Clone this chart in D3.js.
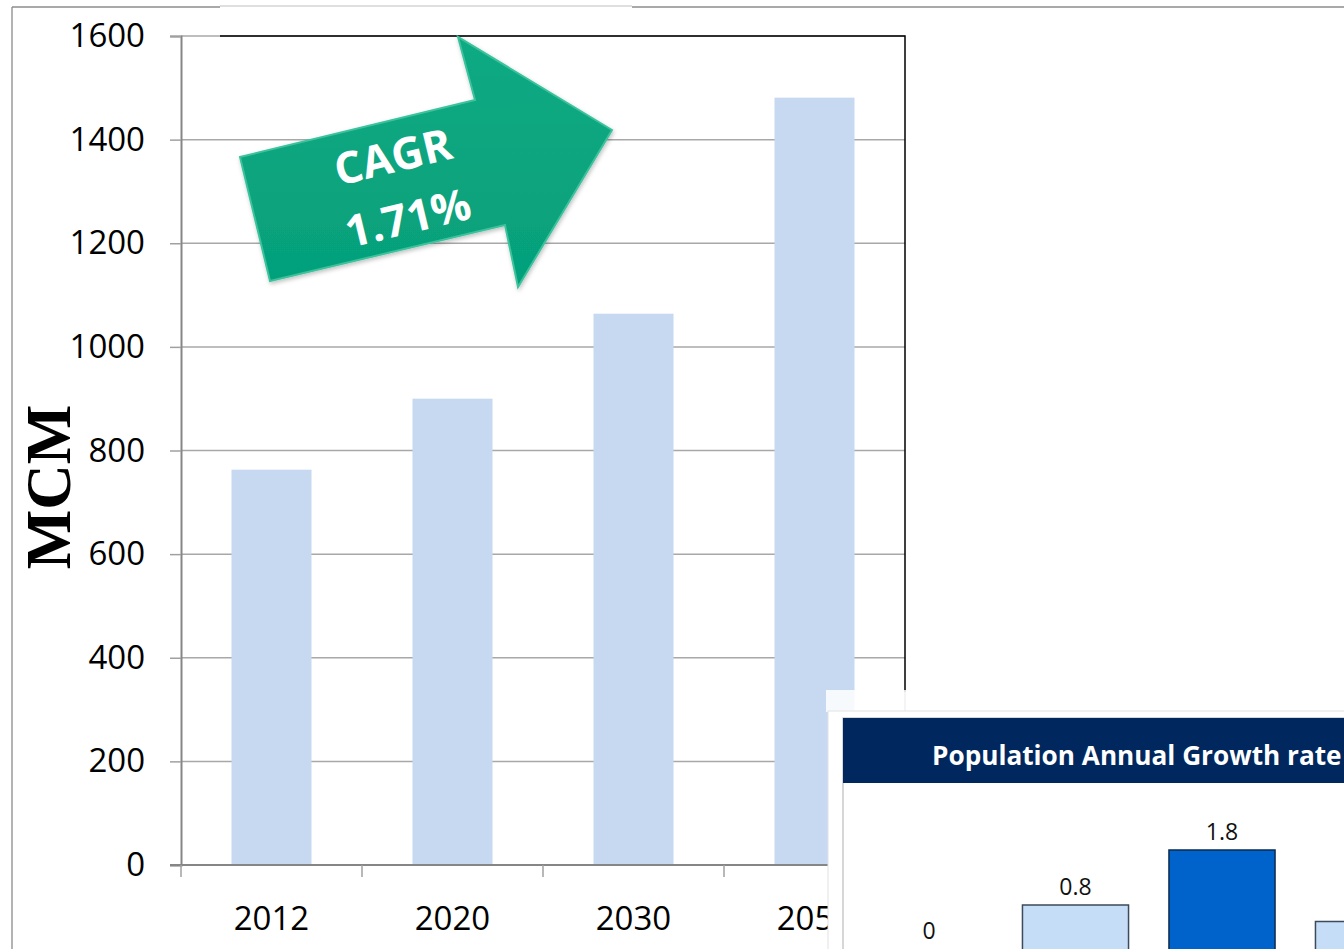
<!DOCTYPE html>
<html>
<head>
<meta charset="utf-8">
<script src="https://cdn.jsdelivr.net/npm/d3@7"></script>
<style>
  html, body { margin: 0; padding: 0; background: #fff; }
  svg { display: block; }
</style>
</head>
<body>
<svg id="chart" width="1344" height="949"></svg>
<script>
// Water demand by year (MCM)
const years = ["2012", "2020", "2030", "2050"];
const demand = [763, 900, 1064, 1481];
const yTicks = [0, 200, 400, 600, 800, 1000, 1200, 1400, 1600];
const axisTitle = "MCM";
const cagrLines = ["CAGR", "1.71%"];

// Inset: population annual growth rate
const insetTitle = "Population Annual Growth rate";
const growthKeys = ["g1", "g2", "g3", "g4"];
const growthRates = [0, 0.8, 1.8, 0.5];
const growthLabels = ["0", "0.8", "1.8", ""];
const growthHighlight = [false, false, true, false];

(function draw() {
  const svg = d3.select("#chart");
  const font = "'Open Sans', 'Noto Sans', sans-serif";

  // Outer frame
  svg.append("line").attr("x1", 12).attr("x2", 12).attr("y1", 7).attr("y2", 949)
    .attr("stroke", "#9a9a9a").attr("stroke-width", 1.5);
  svg.append("line").attr("x1", 12).attr("x2", 220).attr("y1", 7).attr("y2", 7)
    .attr("stroke", "#8c8c8c").attr("stroke-width", 1.5);
  svg.append("line").attr("x1", 220).attr("x2", 632).attr("y1", 6).attr("y2", 6)
    .attr("stroke", "#d4d4d4").attr("stroke-width", 1.5);
  svg.append("line").attr("x1", 632).attr("x2", 1344).attr("y1", 7).attr("y2", 7)
    .attr("stroke", "#8c8c8c").attr("stroke-width", 1.5);

  // Main chart scales
  const plotL = 181, plotR = 905, plotT = 36, plotB = 865;
  const x = d3.scaleBand().domain(years).range([plotL, plotR])
    .paddingInner(0.558).paddingOuter(0.279);
  const y = d3.scaleLinear().domain([0, 1600]).range([plotB, plotT]);

  // Gridlines
  svg.append("g").selectAll("line").data(yTicks.filter(t => t > 0)).join("line")
    .attr("x1", plotL).attr("x2", plotR)
    .attr("y1", d => y(d)).attr("y2", d => y(d))
    .attr("stroke", "#a8a8a8").attr("stroke-width", 1.5);

  // Plot border (top and right)
  svg.append("path")
    .attr("d", `M220,${plotT}H${plotR}V692`)
    .attr("fill", "none").attr("stroke", "#000").attr("stroke-width", 1.5);
  svg.append("line").attr("x1", plotR).attr("x2", plotR).attr("y1", 692).attr("y2", 712)
    .attr("stroke", "#9a9a9a").attr("stroke-width", 1.5);

  // Bars
  svg.append("g").selectAll("rect").data(years).join("rect")
    .attr("x", d => x(d))
    .attr("width", x.bandwidth())
    .attr("y", (d, i) => y(demand[i]))
    .attr("height", (d, i) => plotB - y(demand[i]))
    .attr("fill", "#c6d9f0");

  // Y axis
  const yAxis = d3.axisLeft(y).tickValues(yTicks).tickFormat(d3.format("d"))
    .tickSize(11).tickPadding(25);
  const gy = svg.append("g").attr("transform", `translate(${plotL},0)`).call(yAxis);
  gy.select(".domain").attr("stroke", "#868686").attr("stroke-width", 2);
  gy.selectAll(".tick line").attr("stroke", "#a0a0a0").attr("stroke-width", 1.5);
  gy.selectAll(".tick text").attr("font-family", font).attr("font-size", 33)
    .attr("fill", "#000");

  // X axis line with boundary ticks
  svg.append("line").attr("x1", 170).attr("x2", plotR).attr("y1", plotB).attr("y2", plotB)
    .attr("stroke", "#868686").attr("stroke-width", 2);
  const step = x.step();
  const bounds = years.map(d => x(d) - step * x.paddingInner() / 2).concat([plotR]);
  svg.append("g").selectAll("line").data(bounds).join("line")
    .attr("x1", d => d).attr("x2", d => d)
    .attr("y1", plotB).attr("y2", plotB + 12)
    .attr("stroke", "#a0a0a0").attr("stroke-width", 1.5);
  svg.append("g").selectAll("text").data(years).join("text")
    .attr("x", d => x(d) + x.bandwidth() / 2)
    .attr("y", 930)
    .attr("text-anchor", "middle")
    .attr("font-family", font).attr("font-size", 33)
    .text(d => d);

  // Axis title
  svg.append("text")
    .attr("transform", "translate(70,487) rotate(-90)")
    .attr("text-anchor", "middle")
    .attr("font-family", "'Liberation Serif', 'DejaVu Serif', serif")
    .attr("font-weight", "bold").attr("font-size", 63)
    .text(axisTitle);

  // CAGR arrow
  const defs = svg.append("defs");
  const grad = defs.append("linearGradient").attr("id", "arrowFill")
    .attr("x1", 0).attr("y1", 0).attr("x2", 0).attr("y2", 1);
  grad.append("stop").attr("offset", 0).attr("stop-color", "#0daa83");
  grad.append("stop").attr("offset", 1).attr("stop-color", "#05a07a");
  const sh = defs.append("filter").attr("id", "arrowShadow")
    .attr("x", -0.1).attr("y", -0.1).attr("width", 1.3).attr("height", 1.3);
  sh.append("feDropShadow").attr("dx", 1).attr("dy", 2).attr("stdDeviation", 2)
    .attr("flood-color", "#000").attr("flood-opacity", 0.25);

  const arrowPts = [[240, 157], [475, 100], [458, 37], [612, 130], [518, 287], [505, 225], [270, 281]];
  svg.append("path")
    .attr("d", d3.line()(arrowPts) + "Z")
    .attr("fill", "url(#arrowFill)")
    .attr("stroke", "#3cc29c").attr("stroke-width", 2).attr("stroke-linejoin", "miter")
    .attr("filter", "url(#arrowShadow)");

  const cagr = svg.append("g").attr("font-family", font).attr("font-weight", "bold")
    .attr("font-size", 44).attr("fill", "#fff").attr("text-anchor", "middle");
  [[393, 157], [408, 218]].forEach((p, i) => {
    cagr.append("text")
      .attr("transform", `translate(${p[0]},${p[1]}) rotate(-13.5)`)
      .attr("dy", "0.35em")
      .text(cagrLines[i]);
  });

  // Inset panel
  svg.append("rect").attr("x", 826).attr("y", 690).attr("width", 520).attr("height", 22)
    .attr("fill", "#fff").attr("opacity", 0.85);
  svg.append("rect").attr("x", 828).attr("y", 711).attr("width", 520).attr("height", 250)
    .attr("fill", "#fff").attr("stroke", "#e2e2e2").attr("stroke-width", 1);
  svg.append("rect").attr("x", 843).attr("y", 718).attr("width", 505).attr("height", 240)
    .attr("fill", "#fff").attr("stroke", "#bdbdbd").attr("stroke-width", 1.2);
  svg.append("rect").attr("x", 843).attr("y", 718).attr("width", 505).attr("height", 65)
    .attr("fill", "#00285e");
  svg.append("text").attr("x", 932).attr("y", 765)
    .attr("font-family", font).attr("font-weight", "bold").attr("font-size", 26.2)
    .attr("fill", "#fff").text(insetTitle);

  const gx = d3.scaleBand().domain(growthKeys).range([855.75, 1441.75])
    .paddingInner(0.276).paddingOuter(0.138);
  const gy2 = d3.scaleLinear().domain([0, 1.8]).range([949, 850]);

  svg.append("g").selectAll("rect").data(growthKeys).join("rect")
    .attr("x", d => gx(d))
    .attr("width", gx.bandwidth())
    .attr("y", (d, i) => gy2(growthRates[i]))
    .attr("height", (d, i) => gy2(0) + 20 - gy2(growthRates[i]))
    .attr("fill", (d, i) => growthHighlight[i] ? "#0063cc" : "#c5ddf6")
    .attr("stroke", (d, i) => growthHighlight[i] ? "#0b2a4f" : "#3b4a5c")
    .attr("stroke-width", (d, i) => growthRates[i] > 0 ? 1.5 : 0);

  svg.append("g").selectAll("text").data(growthKeys).join("text")
    .attr("x", d => gx(d) + gx.bandwidth() / 2)
    .attr("y", (d, i) => gy2(growthRates[i]) - 10)
    .attr("text-anchor", "middle")
    .attr("font-family", font).attr("font-size", 23).attr("fill", "#111")
    .text((d, i) => growthLabels[i]);
})();
</script>
</body>
</html>
